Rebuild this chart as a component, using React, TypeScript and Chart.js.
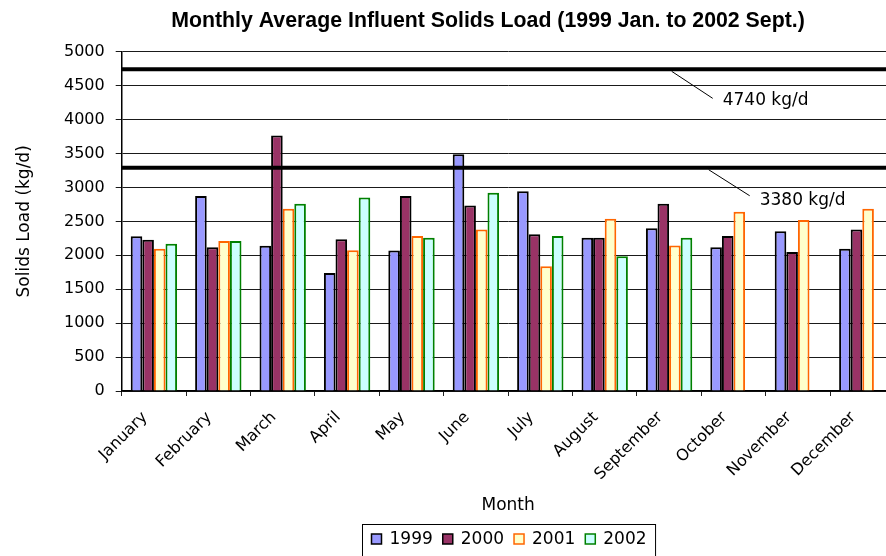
import { useEffect, useRef } from 'react';
import { Chart, registerables } from 'chart.js';

Chart.register(...registerables);

// ---- data ----
const months = ['January', 'February', 'March', 'April', 'May', 'June', 'July', 'August', 'September', 'October', 'November', 'December'];
const seriesNames = ['1999', '2000', '2001', '2002'];
const load1999 = [2280, 2875, 2140, 1740, 2070, 3490, 2945, 2260, 2400, 2120, 2355, 2095];
const load2000 = [2230, 2120, 3765, 2235, 2875, 2735, 2310, 2260, 2760, 2285, 2050, 2380];
const load2001 = [2095, 2210, 2685, 2075, 2285, 2380, 1840, 2540, 2145, 2640, 2520, 2685];
const load2002 = [2170, 2210, 2760, 2850, 2260, 2920, 2285, 1985, 2260, null, null, null];
const yTickValues = [0, 500, 1000, 1500, 2000, 2500, 3000, 3500, 4000, 4500, 5000];
const thresholdLevels = [4740, 3290];
const thresholdLabels = ['4740 kg/d', '3380 kg/d'];

// ---- styles ----
const fills = ['#9999FF', '#993366', '#FFFFCC', '#CCFFFF'];
const borders = ['#000000', '#000000', '#FF6600', '#008000'];
const FONT = 'DejaVu Sans';

const CANVAS_W = 976;
const CANVAS_H = 556;

const decorPlugin = {
  id: 'decor',
  afterDatasetsDraw(chart: any) {
    const { ctx, chartArea, scales } = chart;
    const y = scales.y;
    // annotation geometry (offsets from chart-area left / line)
    const ann = [
      { sx: 550, ex: 591, ey: 29, tx: 601, ty: 31 },
      { sx: 587, ex: 628, ey: 28, tx: 638, ty: 33 },
    ];
    ctx.save();
    thresholdLevels.forEach((lvl, i) => {
      const py = y.getPixelForValue(lvl);
      ctx.strokeStyle = '#000';
      ctx.lineWidth = 4;
      ctx.beginPath();
      ctx.moveTo(chartArea.left, py);
      ctx.lineTo(chartArea.right, py);
      ctx.stroke();
      const a = ann[i];
      ctx.lineWidth = 1;
      ctx.beginPath();
      ctx.moveTo(chartArea.left + a.sx, py + 2);
      ctx.lineTo(chartArea.left + a.ex, py + a.ey);
      ctx.stroke();
      ctx.fillStyle = '#000';
      ctx.font = `17px "${FONT}"`;
      ctx.textAlign = 'left';
      ctx.textBaseline = 'middle';
      ctx.fillText(thresholdLabels[i], chartArea.left + a.tx, py + a.ty);
    });
    ctx.restore();
  },
  afterDraw(chart: any) {
    const { ctx, chartArea } = chart;
    ctx.save();
    // title
    ctx.fillStyle = '#000';
    ctx.font = `bold 21.3px "Liberation Sans"`;
    ctx.textAlign = 'center';
    ctx.textBaseline = 'middle';
    ctx.fillText('Monthly Average Influent Solids Load (1999 Jan. to 2002 Sept.)', CANVAS_W / 2, 21.5);

    // legend
    ctx.font = `17px "${FONT}"`;
    const cx = (chartArea.left + chartArea.right) / 2;
    const marker = 10;
    const gapMT = 8;
    const gapEntry = 10;
    const padL = 9;
    const widths = seriesNames.map((n) => ctx.measureText(n).width);
    let total = padL * 2;
    widths.forEach((w, i) => {
      total += marker + gapMT + w + (i < widths.length - 1 ? gapEntry : 0);
    });
    const boxL = Math.round(cx - total / 2) + 0.5;
    const boxT = 524.5;
    ctx.strokeStyle = '#000';
    ctx.lineWidth = 1;
    ctx.strokeRect(boxL, boxT, total, 40);
    let x = boxL + padL;
    const my = 539;
    seriesNames.forEach((n, i) => {
      ctx.fillStyle = fills[i];
      ctx.fillRect(x, my - marker / 2, marker, marker);
      ctx.strokeStyle = borders[i];
      ctx.lineWidth = 1.5;
      ctx.strokeRect(x, my - marker / 2, marker, marker);
      ctx.fillStyle = '#000';
      ctx.textAlign = 'left';
      ctx.textBaseline = 'middle';
      ctx.fillText(n, x + marker + gapMT, my + 1);
      x += marker + gapMT + widths[i] + gapEntry;
    });
    ctx.restore();
  },
};

export default function App() {
  const ref = useRef<HTMLCanvasElement | null>(null);

  useEffect(() => {
    if (!ref.current) return;
    const data = [load1999, load2000, load2001, load2002];
    const chart = new Chart(ref.current, {
      type: 'bar',
      data: {
        labels: months,
        datasets: seriesNames.map((n, i) => ({
          label: n,
          data: data[i],
          backgroundColor: fills[i],
          borderColor: borders[i],
          borderWidth: 2,
          barPercentage: 1,
          categoryPercentage: 0.72,
        })),
      },
      options: {
        responsive: false,
        animation: false,
        devicePixelRatio: 1,
        layout: { padding: { top: 51.7, right: CANVAS_W - 894.5, bottom: 0, left: 0 } },
        plugins: {
          legend: { display: false },
          title: { display: false },
          tooltip: { enabled: false },
        },
        scales: {
          x: {
            grid: { drawOnChartArea: false, drawTicks: true, tickLength: 5, color: '#222', offset: true },
            border: { display: true, color: '#000', width: 1.5 },
            ticks: {
              color: '#000',
              font: { family: FONT, size: 16 },
              minRotation: 45,
              maxRotation: 45,
              autoSkip: false,
              padding: 12,
              labelOffset: -9,
            },
            title: {
              display: true,
              text: 'Month',
              color: '#000',
              font: { family: FONT, size: 17 },
              padding: { top: 0, bottom: 40 },
            },
            afterFit: (s: any) => {
              s.height = 165;
            },
          },
          y: {
            min: 0,
            max: 5000,
            afterBuildTicks: (s: any) => {
              s.ticks = yTickValues.map((v) => ({ value: v }));
            },
            ticks: {
              color: '#000',
              font: { family: FONT, size: 16 },
              padding: 11,
              callback: (v: any) => String(v),
            },
            grid: { color: '#1a1a1a', lineWidth: 1, tickLength: 6, drawTicks: true },
            border: { display: true, color: '#000', width: 1.5 },
            title: {
              display: true,
              text: 'Solids Load (kg/d)',
              color: '#000',
              font: { family: FONT, size: 17 },
              padding: { top: 14, bottom: 0 },
            },
            afterFit: (s: any) => {
              s.width = 121.7;
            },
          },
        },
      },
      plugins: [decorPlugin],
    });
    return () => chart.destroy();
  }, []);

  return (
    <div style={{ position: 'absolute', left: 0, top: 0, width: 886, height: 556, overflow: 'hidden', background: '#fff' }}>
      <canvas ref={ref} width={CANVAS_W} height={CANVAS_H} style={{ display: 'block', width: CANVAS_W, height: CANVAS_H }} />
    </div>
  );
}
